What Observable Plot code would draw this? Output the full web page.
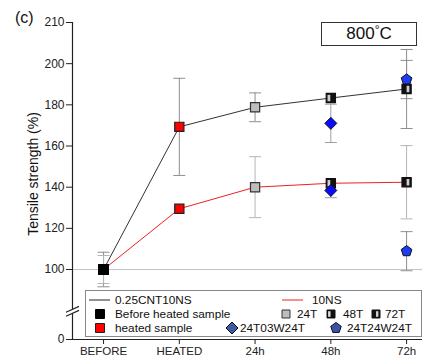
<!DOCTYPE html>
<html>
<head>
<meta charset="utf-8">
<script src="https://cdn.jsdelivr.net/npm/d3@7"></script>
<script src="https://cdn.jsdelivr.net/npm/@observablehq/plot@0.6"></script>
<style>
  html, body { margin: 0; padding: 0; background: #fff; }
  body { font-family: "Liberation Sans", Arial, sans-serif; }
  #wrap { position: relative; width: 425px; height: 358px; overflow: hidden; }
  .ov { position: absolute; color: #111; white-space: nowrap; }
</style>
</head>
<body>
<div id="wrap">
  <div id="chart"></div>
  <div class="ov" style="left:15px; top:9px; font-size:16px;">(c)</div>
  <div class="ov" style="left:321px; top:22px; width:94px; height:22px; border:1.3px solid #333; background:#fff; font-size:17px; line-height:22px; text-align:center;">800<span style="font-size:12px; position:relative; top:-5px;">°</span>C</div>
  <div class="ov" style="left:33px; top:174px; font-size:14px; transform: translate(-50%,-50%) rotate(-90deg);">Tensile strength (%)</div>
  <svg id="legend" class="ov" style="left:85px; top:290px;" width="338" height="48"></svg>
</div>
<script>
// ---- data ----
const categories = ["BEFORE", "HEATED", "24h", "48h", "72h"];
const markerStyles = ["before", "heated", "24T", "48T", "72T"];
const cntMean = [100, 169.3, 178.8, 183.3, 187.7];   // 0.25CNT10NS
const cntErr  = [8.4, 23.6, 7.0, 1.5, 19.2];
const nsMean  = [100, 129.5, 140.0, 141.9, 142.4];    // 10NS
const nsErr   = [6.8, 1.5, 14.8, 1.5, 17.8];
const w03Index = 3;                 // 24T03W24T at 48h
const w03Mean = [171.0, 138.4];
const w03Err  = [9.3, 3.5];
const w24Index = 4;                 // 24T24W24T at 72h
const w24Mean = [192.3, 108.9];
const w24Err  = [9.3, 9.5];
const yTickPos    = [66, 100, 120, 140, 160, 180, 200, 220];
const yTickLabels = ["0", "100", "120", "140", "160", "180", "200", "210"];
const axisBreak = 79.7;
const xDomain = [-0.41, 4.21];
const yDomain = [66, 220];

// ---- symbols ----
const rOf = s => Math.sqrt(s / Math.PI);
const squareSym = { draw(c, s) { const r = rOf(s); c.rect(-r, -r, 2 * r, 2 * r); } };
const diamondSym = { draw(c, s) { const r = rOf(s); c.moveTo(0, -r); c.lineTo(r, 0); c.lineTo(0, r); c.lineTo(-r, 0); c.closePath(); } };
const pentagonSym = { draw(c, s) { const r = rOf(s); for (let k = 0; k < 5; k++) { const a = -Math.PI / 2 + k * 2 * Math.PI / 5; const px = r * Math.cos(a), py = r * Math.sin(a); k ? c.lineTo(px, py) : c.moveTo(px, py); } c.closePath(); } };
const capSym = { draw(c, s) { const r = rOf(s); c.moveTo(-r, 0); c.lineTo(r, 0); } };
const stripeLeft = { draw(c, s) { const r = rOf(s); c.rect(-0.72 * r, -0.7 * r, 0.6 * r, 1.4 * r); } };
const stripeRight = { draw(c, s) { const r = rOf(s); c.rect(0.0, -0.7 * r, 0.6 * r, 1.4 * r); } };
// axis break: white gap + two slanted strokes
const breakGap = { draw(c, s) { const r = rOf(s); c.moveTo(-r, 0.45 * r - 2); c.lineTo(r, -0.45 * r - 2); c.lineTo(r, -0.45 * r + 2); c.lineTo(-r, 0.45 * r + 2); c.closePath(); } };
const breakLines = { draw(c, s) { const r = rOf(s); c.moveTo(-r, 0.45 * r - 2); c.lineTo(r, -0.45 * r - 2); c.moveTo(-r, 0.45 * r + 2); c.lineTo(r, -0.45 * r + 2); } };

// ---- tables ----
const cnt = categories.map((c, i) => ({ x: i, y: cntMean[i], err: cntErr[i], style: markerStyles[i] }));
const ns = categories.map((c, i) => ({ x: i, y: nsMean[i], err: nsErr[i], style: markerStyles[i] }));
const w03 = w03Mean.map((v, i) => ({ x: w03Index, y: v, err: w03Err[i] }));
const w24 = w24Mean.map((v, i) => ({ x: w24Index, y: v, err: w24Err[i] }));

function errorBars(data, color) {
  const d = data.filter(p => p.err > 2);
  return [
    Plot.ruleX(d, { x: "x", y1: p => p.y - p.err, y2: p => p.y + p.err, stroke: color, strokeWidth: 1 }),
    Plot.dot(d, { x: "x", y: p => p.y + p.err, symbol: capSym, r: 6, stroke: color, fill: "none", strokeWidth: 1 }),
    Plot.dot(d, { x: "x", y: p => p.y - p.err, symbol: capSym, r: 6, stroke: color, fill: "none", strokeWidth: 1 })
  ];
}

const styleDefs = {
  before: { fill: "#000", stroke: "#000", r: 4.8 },
  heated: { fill: "#ff0000", stroke: "#222", r: 4.6 },
  "24T": { fill: "#bdbdbd", stroke: "#333", r: 4.6 },
  "48T": { fill: "#111", stroke: "#111", r: 4.6, stripe: stripeLeft },
  "72T": { fill: "#111", stroke: "#111", r: 4.6, stripe: stripeRight }
};
function squares(data) {
  const out = [];
  for (const [k, def] of Object.entries(styleDefs)) {
    const d = data.filter(p => p.style === k);
    out.push(Plot.dot(d, { x: "x", y: "y", symbol: squareSym, r: def.r, fill: def.fill, stroke: def.stroke, strokeWidth: 1.2 }));
    if (def.stripe) out.push(Plot.dot(d, { x: "x", y: "y", symbol: def.stripe, r: def.r, fill: "#cfcfcf", stroke: "none" }));
  }
  return out;
}

const chart = Plot.plot({
  width: 425,
  height: 358,
  marginLeft: 72,
  marginRight: 3,
  marginTop: 22,
  marginBottom: 19,
  style: { fontFamily: "'Liberation Sans', Arial, sans-serif", fontSize: "12px", color: "#222", background: "#fff" },
  x: { type: "linear", domain: xDomain },
  y: { type: "linear", domain: yDomain },
  marks: [
    Plot.ruleY([100], { stroke: "#c4c4c4", strokeWidth: 1 }),
    ...errorBars(cnt, "#8f8f8f"),
    ...errorBars(ns, "#b5b5b5"),
    ...errorBars(w03, "#a0a0a0"),
    ...errorBars(w24, "#8f8f8f"),
    Plot.line(cnt, { x: "x", y: "y", stroke: "#333", strokeWidth: 1 }),
    Plot.line(ns, { x: "x", y: "y", stroke: "#ee2020", strokeWidth: 1 }),
    ...squares(cnt),
    ...squares(ns),
    Plot.dot(w24, { x: "x", y: "y", symbol: pentagonSym, r: 5.6, fill: "#1e3cf5", stroke: "#111", strokeWidth: 1 }),
    Plot.dot(w03, { x: "x", y: "y", symbol: diamondSym, r: 6, fill: "#0a0aff", stroke: "#111", strokeWidth: 1 }),
    Plot.ruleX([xDomain[0]], { stroke: "#222", strokeWidth: 1.2 }),
    Plot.ruleY([yDomain[0]], { stroke: "#222", strokeWidth: 1.2 }),
    Plot.dot([axisBreak], { x: xDomain[0], y: d => d, symbol: breakGap, r: 6.5, fill: "#fff", stroke: "none" }),
    Plot.dot([axisBreak], { x: xDomain[0], y: d => d, symbol: breakLines, r: 6.5, fill: "none", stroke: "#222", strokeWidth: 1.1 }),
    Plot.axisY({ ticks: yTickPos, tickFormat: d => yTickLabels[yTickPos.indexOf(d)], tickSize: 6, tickPadding: 2, label: null, fontSize: 12, stroke: "#222" }),
    Plot.axisX({ ticks: [0, 1, 2, 3, 4], tickFormat: i => categories[i], tickSize: 5, tickPadding: 2, label: null, fontSize: 11.5, stroke: "#222" })
  ]
});
document.getElementById("chart").appendChild(chart);

// ---- legend ----
const L = d3.select("#legend");
L.append("rect").attr("x", 0.5).attr("y", 0.5).attr("width", 336).attr("height", 46).attr("fill", "#fff").attr("stroke", "#888");
const T = (x, y, t) => L.append("text").attr("x", x).attr("y", y).attr("dy", "0.35em").attr("font-size", 11.8).attr("fill", "#111").attr("font-family", "'Liberation Sans', Arial, sans-serif").text(t);
const path = (sym, size, x, y, fill, stroke) => L.append("path").attr("d", d3.symbol(sym, size)()).attr("transform", `translate(${x},${y})`).attr("fill", fill).attr("stroke", stroke).attr("stroke-width", 1);
L.append("line").attr("x1", 4).attr("x2", 25).attr("y1", 10).attr("y2", 10).attr("stroke", "#222");
T(30, 10, "0.25CNT10NS");
L.append("line").attr("x1", 197).attr("x2", 218).attr("y1", 10).attr("y2", 10).attr("stroke", "#ee2020");
T(227, 10, "10NS");
path(squareSym, Math.PI * 4.5 * 4.5, 15, 24, "#000", "#000");
T(30, 24, "Before heated sample");
path(squareSym, Math.PI * 4 * 4, 201, 24, "#bdbdbd", "#333");
T(212, 24, "24T");
path(squareSym, Math.PI * 4 * 4, 246, 24, "#111", "#111");
path(stripeLeft, Math.PI * 4 * 4, 246, 24, "#e0e0e0", "none");
T(258, 24, "48T");
path(squareSym, Math.PI * 4 * 4, 291, 24, "#111", "#111");
path(stripeRight, Math.PI * 4 * 4, 291, 24, "#cfcfcf", "none");
T(300, 24, "72T");
path(squareSym, Math.PI * 4.5 * 4.5, 15, 38, "#ff0000", "#222");
T(30, 38, "heated sample");
path(diamondSym, Math.PI * 6 * 6, 147, 38, "#3a5aa8", "#111");
T(155, 38, "24T03W24T");
path(pentagonSym, Math.PI * 5.5 * 5.5, 251, 38, "#3a52aa", "#111");
T(262, 38, "24T24W24T");
</script>
</body>
</html>
